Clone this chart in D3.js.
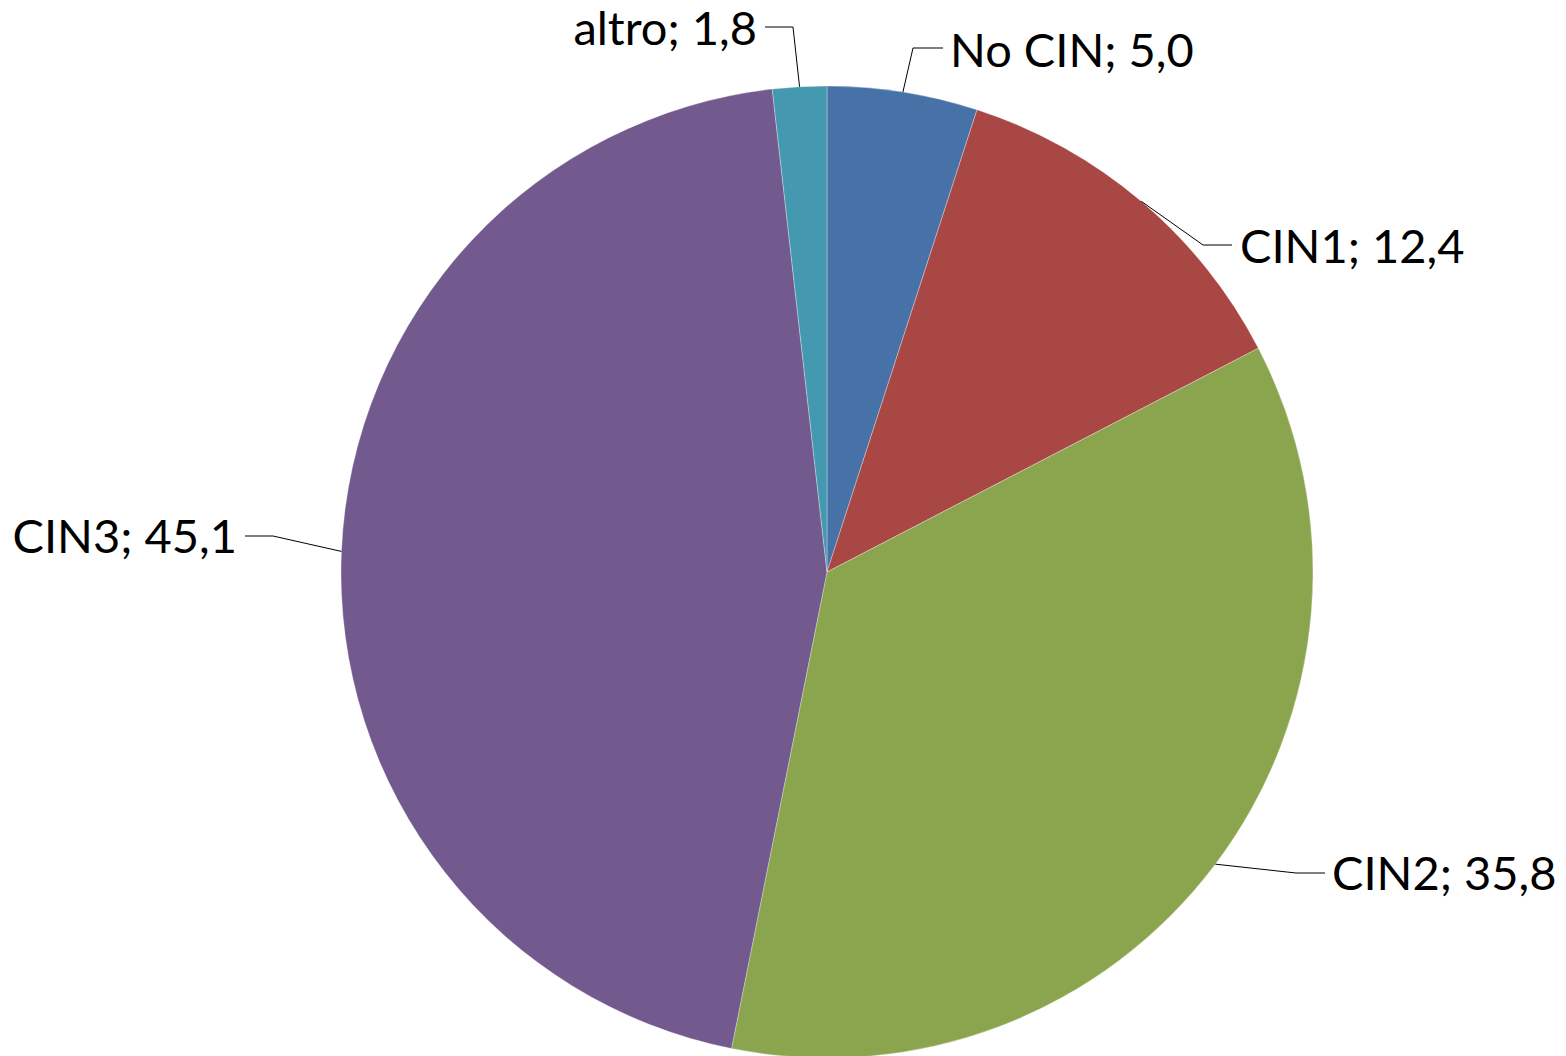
<!DOCTYPE html>
<html><head><meta charset="utf-8">
<script src="https://cdn.jsdelivr.net/npm/d3@7"></script>
<style>html,body{margin:0;padding:0;background:#fff;}svg{display:block;}</style>
</head><body>
<svg id="chart" width="1566" height="1056"></svg>
<script>
const categories = ["No CIN", "CIN1", "CIN2", "CIN3", "altro"];
const values = [5.0, 12.4, 35.8, 45.1, 1.8];
const valueLabels = ["5,0", "12,4", "35,8", "45,1", "1,8"];
const colors = ["#4672A7", "#A94745", "#8AA54E", "#72598E", "#4499B0"];

// label layout: elbow point, horizontal end, text anchor position
const labelLayout = [
  {ex: 913, ey: 48, hx: 943, tx: 950, ty: 67, anchor: "start"},
  {ex: 1203, ey: 245, hx: 1232, tx: 1240, ty: 263, anchor: "start"},
  {ex: 1296, ey: 873, hx: 1325, tx: 1332, ty: 890, anchor: "start"},
  {ex: 273, ey: 536, hx: 245, tx: 237, ty: 553, anchor: "end"},
  {ex: 793, ey: 27, hx: 765, tx: 757, ty: 45, anchor: "end"}
];

const cx = 827, cy = 572, r = 486;
const svg = d3.select("#chart");
const g = svg.append("g").attr("transform", `translate(${cx},${cy})`);

const data = categories.map((c, i) => ({cat: c, value: values[i], label: valueLabels[i], color: colors[i], lay: labelLayout[i]}));
const pie = d3.pie().value(d => d.value).sort(null);
const arcs = pie(data);
const arc = d3.arc().innerRadius(0).outerRadius(r);
const edge = d3.arc().innerRadius(r).outerRadius(r);

g.selectAll("path.slice").data(arcs).enter().append("path")
  .attr("class", "slice")
  .attr("d", arc)
  .attr("fill", d => d.data.color)
  .attr("stroke", "#ffffff")
  .attr("stroke-width", 0.6)
  .attr("stroke-opacity", 0.5);

const lg = svg.append("g");
arcs.forEach(a => {
  const c = edge.centroid(a);
  const L = a.data.lay;
  const pts = [[cx + c[0], cy + c[1]], [L.ex, L.ey], [L.hx, L.ey]];
  lg.append("path")
    .attr("d", d3.line()(pts))
    .attr("fill", "none")
    .attr("stroke", "#000")
    .attr("stroke-width", 1);
  lg.append("text")
    .attr("x", L.tx).attr("y", L.ty)
    .attr("text-anchor", L.anchor)
    .attr("font-family", "Lato, 'Open Sans', sans-serif")
    .attr("font-size", 47)
    .attr("fill", "#000")
    .text(`${a.data.cat}; ${a.data.label}`);
});
</script>
</body></html>
